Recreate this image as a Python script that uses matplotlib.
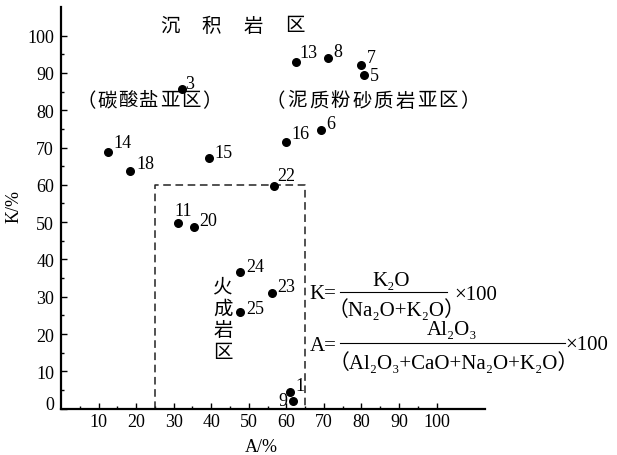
import matplotlib

matplotlib.use("Agg")
import matplotlib.pyplot as plt
import matplotlib.transforms as mtransforms

plt.rcParams["font.family"] = ["Liberation Serif", "DejaVu Serif", "Noto Sans CJK SC"]

# sample points: A/% (x) and K/% (y)
labels = ["1", "3", "5", "6", "7", "8", "9", "11", "13", "14", "15", "16", "18", "20", "22", "23", "24", "25"]
a_vals = [61.1, 32.1, 80.6, 69.1, 80.0, 71.1, 61.7, 31.1, 62.5, 12.6, 39.5, 59.8, 18.4, 35.4, 56.8, 56.1, 47.6, 47.6]
k_vals = [4.4, 85.7, 89.5, 74.8, 92.2, 94.0, 2.1, 49.8, 93.0, 68.7, 67.1, 71.6, 63.6, 48.8, 59.8, 31.0, 36.6, 25.8]

# igneous field (dashed box)
box_a = [25, 65]
box_k = [0, 60]

x_ticks = list(range(10, 101, 10))
y_ticks = list(range(0, 101, 10))

# label offsets in pixels (dx, dy, ha)
OFFSETS = {
    "1": (5, 7, "left"), "3": (4, 5, "left"), "5": (6, -1, "left"), "6": (6, 6, "left"),
    "7": (5, 7, "left"), "8": (5, 7, "left"), "9": (-5, 0, "right"), "11": (-3, 12, "left"),
    "13": (4, 9, "left"), "14": (5, 10, "left"), "15": (5, 6, "left"), "16": (6, 8, "left"),
    "18": (6, 8, "left"), "20": (5, 6, "left"), "22": (3, 10, "left"), "23": (6, 6, "left"),
    "24": (6, 6, "left"), "25": (6, 4, "left"),
}

FS = 13
FS_CN = 14
FS_EQ = 15


def spaced(ax, x, y, text, step, vertical=False):
    n = len(text)
    for i, ch in enumerate(text):
        off = (i - (n - 1) / 2) * step
        xy = (0, -off) if vertical else (off, 0)
        ax.annotate(ch, (x, y), xytext=xy, textcoords="offset pixels",
                    ha="center", va="center", fontsize=FS_CN, annotation_clip=False)


fig = plt.figure(figsize=(6.17, 4.56), dpi=100)
ax = fig.add_axes([61 / 617, 1 - 409.6 / 456, 424 / 617, 401.3 / 456])

ax.scatter(a_vals, k_vals, s=30, color="black", zorder=3, clip_on=False)
for lab, a, k in zip(labels, a_vals, k_vals):
    dx, dy, ha = OFFSETS[lab]
    ax.annotate(lab, (a, k), xytext=(dx, dy), textcoords="offset pixels",
                ha=ha, va="center", fontsize=FS)

ax.plot([box_a[0], box_a[0], box_a[1], box_a[1]], [box_k[0], box_k[1], box_k[1], box_k[0]],
        color="#222222", lw=1.1, ls=(0, (5, 3)), clip_on=False)

ax.set_xlim(0, 112.9)
ax.set_ylim(0, 107.6)
ax.set_xticks(x_ticks)
ax.set_yticks(y_ticks)
ax.set_xticks(list(range(5, 100, 10)), minor=True)
ax.set_yticks(list(range(5, 100, 10)), minor=True)
ax.tick_params(which="major", direction="in", length=4, width=1, labelsize=FS, pad=3)
ax.tick_params(which="minor", direction="in", length=2.5, width=1)
ax.tick_params(axis="y", pad=5)
for side in ["top", "right"]:
    ax.spines[side].set_visible(False)
for side in ["left", "bottom"]:
    ax.spines[side].set_linewidth(1.6)

# the "0" label sits a little above the axis
lab0 = ax.get_yticklabels()[0]
lab0.set_transform(lab0.get_transform() + mtransforms.ScaledTranslation(0, 0.06, fig.dpi_scale_trans))

ax.set_xlabel("A/%", fontsize=FS)
ax.set_ylabel("K/%", fontsize=FS)
ax.xaxis.set_label_coords(0.473, -0.074)
ax.yaxis.set_label_coords(-0.09, 0.505)

# region names
spaced(ax, 45.6, 102.6, "沉积岩区", 41.7)
spaced(ax, 23.4, 82.6, "（碳酸盐亚区）", 21)
spaced(ax, 83.0, 82.6, "（泥质粉砂质岩亚区）", 21.6)
spaced(ax, 43.2, 23.9, "火成岩区", 21.7, vertical=True)

# formulas
kw = dict(fontsize=FS_EQ, va="center", clip_on=False)
ax.text(66.2, 30.9, "K=", ha="left", **kw)
ax.text(88.0, 34.4, "K₂O", ha="center", **kw)
ax.plot([74.3, 102.7], [31.3, 31.3], color="black", lw=0.8, clip_on=False)
ax.text(89.3, 26.8, "（Na₂O+K₂O）", ha="center", **kw)
ax.text(104.8, 30.7, "×100", ha="left", **kw)

ax.text(66.2, 17.0, "A=", ha="left", **kw)
ax.text(104.0, 21.1, "Al₂O₃", ha="center", **kw)
ax.plot([74.3, 134.1], [17.6, 17.6], color="black", lw=0.8, clip_on=False)
ax.text(104.5, 12.5, "（Al₂O₃+CaO+Na₂O+K₂O）", ha="center", **kw)
ax.text(134.3, 17.1, "×100", ha="left", **kw)

fig.savefig("out.png", dpi=100)
